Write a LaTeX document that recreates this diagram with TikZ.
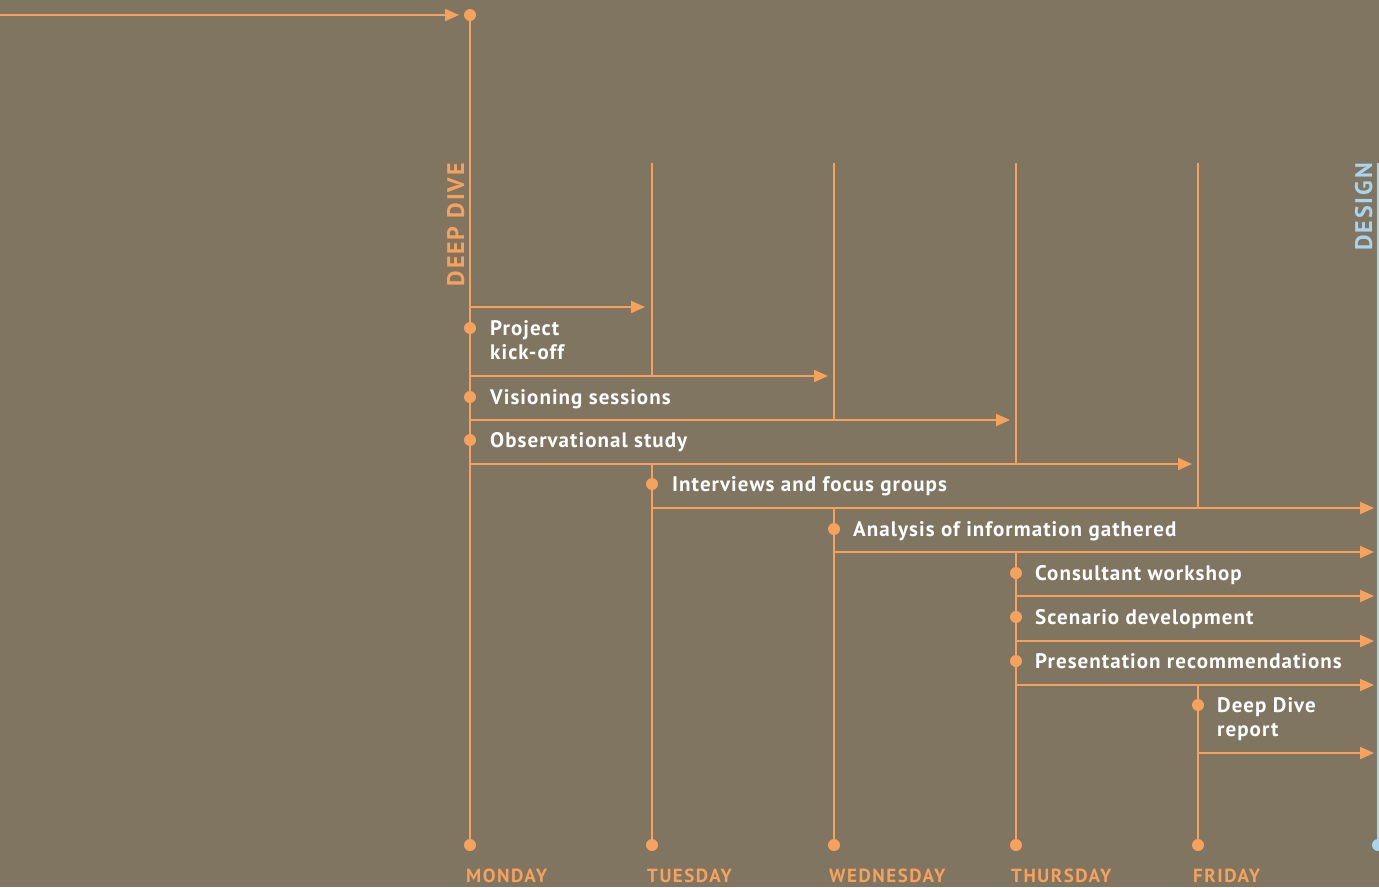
\documentclass[tikz,border=0pt]{standalone}
\usepackage{fontspec}
\setmainfont{PT Sans}
\usetikzlibrary{arrows.meta}
\definecolor{bg}{RGB}{127,117,96}
\definecolor{tang}{RGB}{246,162,92}
\definecolor{sky}{RGB}{168,212,238}
\tikzset{
  flow/.style={draw=tang, line width=2pt},
  tofw/.style={flow, -{Triangle[length=14pt,width=12pt]}},
  knob/.style={circle, fill=tang, inner sep=0pt, minimum size=12pt},
  task/.style={anchor=base west, text=white, font=\fontsize{21}{24}\selectfont\bfseries\addfontfeatures{LetterSpace=5}, align=left, inner sep=0pt},
  day/.style={anchor=base west, text=tang, inner sep=0pt, font=\fontsize{19}{20}\selectfont\bfseries\addfontfeatures{LetterSpace=8}},
  phase/.style={anchor=base east, rotate=90, inner sep=0pt, font=\fontsize{24}{26}\selectfont\bfseries\addfontfeatures{LetterSpace=8}}
}
\begin{document}
\begin{tikzpicture}[x=1pt,y=-1pt]
\fill[bg] (0,0) rectangle (1379,887);
\useasboundingbox (0,0) rectangle (1379,887);

% day columns
\coordinate (mon) at (470,845);
\coordinate (tue) at (652,845);
\coordinate (wed) at (834,845);
\coordinate (thu) at (1016,845);
\coordinate (fri) at (1198,845);
\coordinate (des) at (1378,845);
\coordinate (start) at (470,15);
\coordinate (entry) at (0,15);
\coordinate (tueT) at (652,163);
\coordinate (wedT) at (834,163);
\coordinate (thuT) at (1016,163);
\coordinate (friT) at (1198,163);
\coordinate (desT) at (1378,163);

% incoming arrow and Monday spine
\draw[tofw] (entry) -- ([xshift=-11pt]start);
\draw[flow] (start) -- (mon);
\node[knob] at (start) {};

% upper parts of the day columns
\draw[flow] (tueT) -- (652,376);
\draw[flow] (wedT) -- (834,420);
\draw[flow] (thuT) -- (1016,464);
\draw[flow] (friT) -- (1198,508);
% lower parts of the day columns
\draw[flow] (652,464) -- (tue);
\draw[flow] (834,508) -- (wed);
\draw[flow] (1016,552) -- (thu);
\draw[flow] (1198,685) -- (fri);
\draw[draw=sky, line width=2pt] (desT) -- (des);

% bottom markers
\foreach \d in {mon,tue,wed,thu,fri} \node[knob] at (\d) {};
\node[knob, fill=sky] at (des) {};

% duration arrows
\draw[tofw] (470,307) -- (645,307);
\draw[tofw] (470,376) -- (828,376);
\draw[tofw] (470,420) -- (1010,420);
\draw[tofw] (470,464) -- (1192,464);
\draw[tofw] (652,508) -- (1374,508);
\draw[tofw] (834,552) -- (1374,552);
\draw[tofw] (1016,596) -- (1374,596);
\draw[tofw] (1016,641) -- (1374,641);
\draw[tofw] (1016,685) -- (1374,685);
\draw[tofw] (1198,753) -- (1374,753);

% activities (two-line labels are placed by their last baseline)
\node[knob] (k1) at (470,328) {};
\node[task] (t1) at (490,359) {Project\\kick-off};
\node[knob] (k2) at (470,397) {};
\node[task] (t2) at (490,404) {Visioning sessions};
\node[knob] (k3) at (470,440) {};
\node[task] (t3) at (490,447) {Observational study};
\node[knob] (k4) at (652,484) {};
\node[task] (t4) at (672,491) {Interviews and focus groups};
\node[knob] (k5) at (834,529) {};
\node[task] (t5) at (853,536) {Analysis of information gathered};
\node[knob] (k6) at (1016,573) {};
\node[task] (t6) at (1035,580) {Consultant workshop};
\node[knob] (k7) at (1016,617) {};
\node[task] (t7) at (1035,624) {Scenario development};
\node[knob] (k8) at (1016,661) {};
\node[task] (t8) at (1035,668) {Presentation recommendations};
\node[knob] (k9) at (1198,705) {};
\node[task] (t9) at (1217,736) {Deep Dive\\report};

% phase titles
\node[phase, text=tang] (pdeep) at (464,163) {DEEP DIVE};
\node[phase, text=sky] (pdes) at (1372,163) {DESIGN};

% weekdays
\node[day] (dmon) at (466,882) {MONDAY};
\node[day] (dtue) at (647,882) {TUESDAY};
\node[day] (dwed) at (829,882) {WEDNESDAY};
\node[day] (dthu) at (1011,882) {THURSDAY};
\node[day] (dfri) at (1193,882) {FRIDAY};
\end{tikzpicture}
\end{document}
